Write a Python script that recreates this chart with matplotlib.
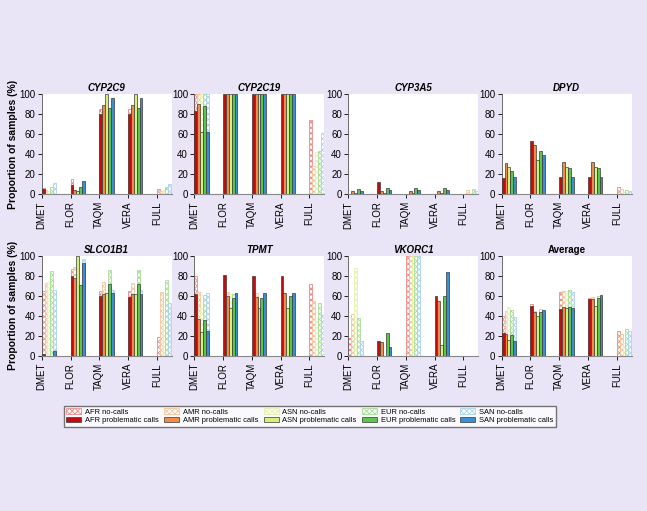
import matplotlib

matplotlib.use("Agg")
import matplotlib.pyplot as plt  # noqa: E402
from matplotlib.patches import Patch  # noqa: E402

plt.rcParams["font.family"] = ["Liberation Sans", "DejaVu Sans"]
plt.rcParams["hatch.linewidth"] = 0.6

platforms = ["DMET", "FLOR", "TAQM", "VERA", "FULL"]
populations = ["AFR", "AMR", "ASN", "EUR", "SAN"]
panel_titles = ["CYP2C9", "CYP2C19", "CYP3A5", "DPYD",
                "SLCO1B1", "TPMT", "VKORC1", "Average"]

# values per platform, each list ordered AFR, AMR, ASN, EUR, SAN (%)
cyp2c9_nocalls = [[6, 4, 3, 7, 11], [15, 4, 3, 0, 0], [85, 0, 0, 0, 0],
                  [85, 0, 0, 0, 0], [5, 3, 4, 7, 10]]
cyp2c9_problem = [[5, 0, 0, 0, 0], [9, 4, 3, 7, 13], [80, 89, 100, 86, 96],
                  [80, 89, 100, 86, 96], [0, 0, 0, 0, 0]]

cyp2c19_nocalls = [[100, 100, 100, 100, 100], [0, 0, 0, 0, 0], [0, 0, 0, 0, 0],
                   [0, 0, 0, 0, 0], [74, 28, 42, 43, 61]]
cyp2c19_problem = [[83, 90, 62, 88, 62], [100, 100, 100, 100, 100],
                   [100, 100, 100, 100, 100], [100, 100, 100, 100, 100],
                   [0, 0, 0, 0, 0]]

cyp3a5_nocalls = [[0, 0, 0, 0, 0], [0, 0, 0, 0, 0], [0, 0, 0, 0, 0],
                  [0, 0, 0, 0, 0], [0, 4, 1, 5, 3]]
cyp3a5_problem = [[0, 3, 1, 5, 3], [12, 3, 1, 6, 4], [0, 3, 1, 6, 4],
                  [0, 3, 1, 6, 4], [0, 0, 0, 0, 0]]

dpyd_nocalls = [[0, 0, 0, 0, 0], [0, 0, 0, 0, 0], [0, 0, 0, 0, 0],
                [0, 0, 0, 0, 0], [7, 5, 2, 4, 3]]
dpyd_problem = [[16, 31, 27, 23, 17], [53, 49, 34, 43, 39], [17, 32, 27, 26, 17],
                [17, 32, 27, 26, 17], [0, 0, 0, 0, 0]]

slco1b1_nocalls = [[65, 73, 74, 85, 66], [87, 89, 0, 0, 97], [65, 74, 0, 86, 66],
                   [65, 73, 0, 86, 66], [19, 64, 36, 76, 53]]
slco1b1_problem = [[2, 0, 0, 0, 5], [80, 78, 100, 71, 93], [60, 62, 63, 72, 63],
                   [59, 62, 62, 72, 62], [0, 0, 0, 0, 0]]

tpmt_nocalls = [[80, 64, 48, 61, 63], [0, 64, 62, 62, 0], [0, 63, 0, 0, 0],
                [0, 0, 0, 0, 0], [72, 55, 38, 53, 41]]
tpmt_problem = [[62, 37, 24, 36, 25], [81, 60, 48, 58, 63], [80, 59, 48, 58, 63],
                [80, 63, 48, 60, 63], [0, 0, 0, 0, 0]]

vkorc1_nocalls = [[18, 42, 88, 38, 15], [0, 0, 0, 0, 0], [100, 100, 100, 100, 100],
                  [0, 0, 0, 0, 0], [0, 0, 0, 0, 0]]
vkorc1_problem = [[0, 0, 0, 0, 0], [15, 14, 0, 23, 9], [0, 0, 0, 0, 0],
                  [60, 55, 11, 60, 84], [0, 0, 0, 0, 0]]

average_nocalls = [[40, 45, 49, 46, 39], [52, 45, 0, 47, 0], [64, 65, 65, 66, 64],
                   [58, 59, 0, 60, 0], [25, 22, 13, 27, 25]]
average_problem = [[23, 22, 16, 21, 15], [50, 44, 40, 44, 46], [47, 49, 48, 49, 48],
                   [57, 57, 50, 58, 61], [0, 0, 0, 0, 0]]

nocalls = [cyp2c9_nocalls, cyp2c19_nocalls, cyp3a5_nocalls, dpyd_nocalls,
           slco1b1_nocalls, tpmt_nocalls, vkorc1_nocalls, average_nocalls]
problem = [cyp2c9_problem, cyp2c19_problem, cyp3a5_problem, dpyd_problem,
           slco1b1_problem, tpmt_problem, vkorc1_problem, average_problem]

solid_colors = ["#C40A0A", "#F08C4A", "#D6F07A", "#5CC64A", "#3A8ED2"]
hatch_colors = ["#EE8A8A", "#F6C49A", "#E4F2A8", "#A6DE96", "#A8D2EE"]

bg = "#E9E5F7"
fig = plt.figure(figsize=(6.47, 5.11), dpi=100, facecolor=bg)

lefts = [0.0645, 0.3003, 0.5383, 0.7754]
bottoms = [0.6198, 0.3033]
width = 0.201
height = 0.1960
bw = 0.1

for k, title in enumerate(panel_titles):
    row, col = divmod(k, 4)
    ax = fig.add_axes([lefts[col], bottoms[row], width, height])
    for g in range(len(platforms)):
        for p in range(len(populations)):
            x = g + p * bw
            nc = nocalls[k][g][p]
            pc = problem[k][g][p]
            if nc > 0:
                ax.bar(x, nc, width=bw, align="edge", facecolor="white",
                       edgecolor=hatch_colors[p], hatch="xxxxxx", linewidth=0.6,
                       zorder=2)
            if pc > 0:
                ax.bar(x, pc, width=bw, align="edge", facecolor=solid_colors[p],
                       edgecolor="#3a3a3a", linewidth=0.5, zorder=3)
    ax.set_xlim(0, 4.52)
    ax.set_ylim(0, 100)
    ax.set_xticks(range(len(platforms)))
    ax.set_xticklabels(platforms, rotation=90, fontsize=7)
    ax.set_yticks([0, 20, 40, 60, 80, 100])
    ax.tick_params(axis="y", labelsize=7, length=3, width=0.6, pad=1.5)
    ax.tick_params(axis="x", length=3, width=0.6, pad=2)
    for side in ("top", "right"):
        ax.spines[side].set_visible(False)
    ax.spines["left"].set_color("#555555")
    ax.spines["bottom"].set_color("#888888")
    ax.spines["left"].set_linewidth(0.6)
    ax.spines["bottom"].set_linewidth(0.8)
    style = "normal" if title == "Average" else "italic"
    ax.set_title(title, fontsize=7, fontweight="bold", style=style, pad=2)
    if col == 0:
        ax.set_ylabel("Proportion of samples (%)", fontsize=7.5,
                      fontweight="bold", labelpad=1)

handles = []
labels = []
for p, pop in enumerate(populations):
    handles.append(Patch(facecolor="white", edgecolor=hatch_colors[p],
                         hatch="xxxxxx", linewidth=0.6))
    labels.append(f"{pop} no-calls")
    handles.append(Patch(facecolor=solid_colors[p], edgecolor="#3a3a3a",
                         linewidth=0.5))
    labels.append(f"{pop} problematic calls")

fig.legend(handles, labels, ncol=5, loc="center", bbox_to_anchor=(0.479, 0.185),
           fontsize=5.4, frameon=True, fancybox=False, edgecolor="#555555",
           handlelength=2.0, handleheight=0.7, handletextpad=0.5,
           columnspacing=0.7, labelspacing=0.2, borderpad=0.35)

fig.savefig("out.png", dpi=100, facecolor=bg)
